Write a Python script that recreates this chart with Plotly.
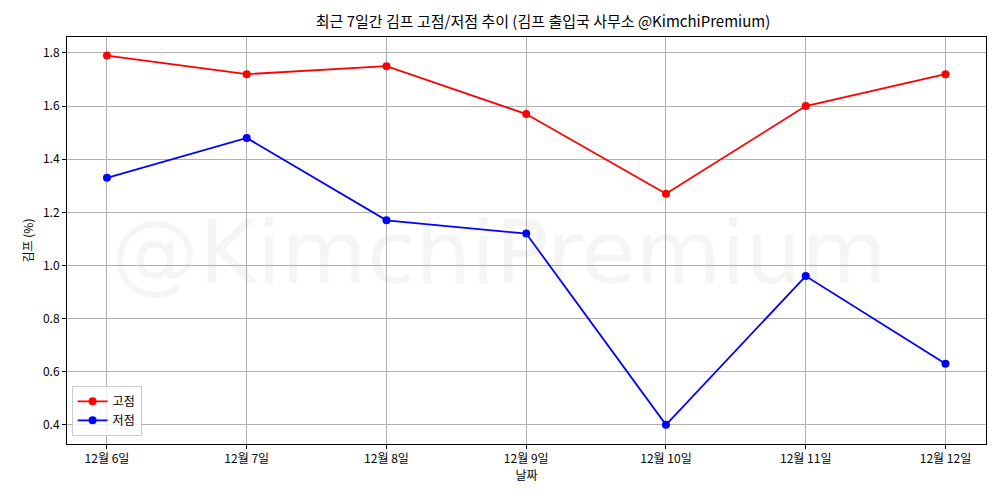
import plotly.graph_objects as go

dates = ["12월 6일", "12월 7일", "12월 8일", "12월 9일", "12월 10일", "12월 11일", "12월 12일"]
high = [1.79, 1.72, 1.75, 1.57, 1.27, 1.60, 1.72]
low = [1.33, 1.48, 1.17, 1.12, 0.40, 0.96, 0.63]
y_ticks = [0.4, 0.6, 0.8, 1.0, 1.2, 1.4, 1.6, 1.8]

FONT = "Noto Sans CJK KR"

fig = go.Figure()
fig.add_trace(go.Scatter(x=dates, y=high, name="고점", mode="lines+markers",
                         line=dict(color="red", width=1.8), marker=dict(size=8, color="red")))
fig.add_trace(go.Scatter(x=dates, y=low, name="저점", mode="lines+markers",
                         line=dict(color="blue", width=1.8), marker=dict(size=8, color="blue")))

axis = dict(showline=True, linecolor="black", linewidth=1, mirror=True,
            showgrid=True, gridcolor="#b0b0b0", gridwidth=1, zeroline=False,
            ticks="outside", ticklen=4, tickcolor="black",
            tickfont=dict(size=12, color="black"))
fig.update_xaxes(**axis, type="category", range=[-0.286, 6.29],
                 title=dict(text="날짜", font=dict(size=12), standoff=2))
fig.update_yaxes(**axis, range=[0.328, 1.86], tickvals=y_ticks,
                 ticktext=[f"{v:.1f}" for v in y_ticks],
                 title=dict(text="김프 (%)", font=dict(size=12), standoff=6))

fig.add_annotation(text="@KimchiPremium", xref="paper", yref="paper", x=0.47, y=0.47,
                   showarrow=False, font=dict(size=88, color="rgba(128,128,128,0.08)", family="DejaVu Sans"))

fig.update_layout(
    width=1000, height=500, paper_bgcolor="white", plot_bgcolor="white",
    font=dict(family=FONT, color="black"),
    title=dict(text="최근 7일간 김프 고점/저점 추이 (김프 출입국 사무소 @KimchiPremium)",
               x=0.535, xanchor="center", y=0.972, yanchor="middle", font=dict(size=15)),
    margin=dict(l=59, r=22, t=29, b=64),
    legend=dict(x=0.005, y=0.02, xanchor="left", yanchor="bottom",
                bordercolor="#cccccc", borderwidth=1, bgcolor="rgba(255,255,255,0.8)",
                font=dict(size=12)),
)

fig.write_html("out.html")
